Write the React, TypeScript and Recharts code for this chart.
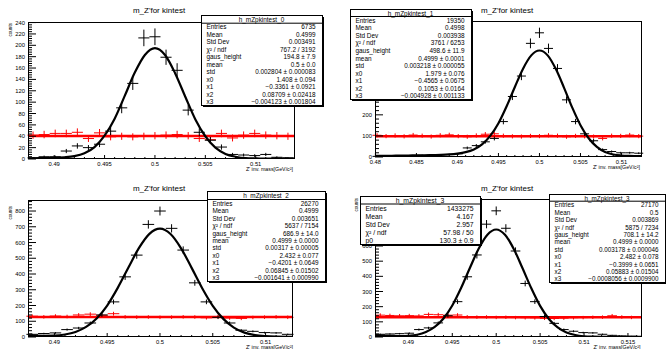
import { ComposedChart, ErrorBar, Line, ReferenceLine, Scatter, XAxis, YAxis } from "recharts";

const FONT = '"Liberation Sans", Arial, Helvetica, sans-serif';
const HALF_BIN = 0.00055;

// ---- pad 0 (top left)
const BINS_0 = [0.4879, 0.489, 0.4901, 0.4912, 0.4923, 0.4934, 0.4945, 0.4956, 0.4967, 0.4978, 0.4989, 0.5, 0.5011, 0.5022, 0.5033, 0.5044, 0.5055, 0.5066, 0.5077, 0.5088, 0.5099, 0.511, 0.5121, 0.5132];
const COUNTS_0 = [2, 4, 4, 14, 23, 20, 26, 49, 90, 133, 213, 215, 179, 156, 86, 47, 33, 21, 8, 7, 6, 8, 3, 2];
const ERR_0 = [1.4, 2, 2, 3.7, 4.8, 4.5, 5.1, 7, 9.5, 11.5, 14.6, 14.7, 13.4, 12.5, 9.3, 6.9, 5.7, 4.6, 2.8, 2.6, 2.4, 2.8, 1.7, 1.4];
const BKG_0 = [42, 43, 45, 45, 47, 36, 46, 39, 40, 39, 40, 41, 42, 43, 41, 36, 34, 45, 37, 42, 45, 42, 41, 40];
const BKG_ERR_0 = [6.5, 6.6, 6.7, 6.7, 6.9, 6, 6.8, 6.2, 6.3, 6.2, 6.3, 6.4, 6.5, 6.6, 6.4, 6, 5.8, 6.7, 6.1, 6.5, 6.7, 6.5, 6.4, 6.3];
const FIT_X_0 = [0.4874, 0.488, 0.489, 0.49, 0.491, 0.492, 0.493, 0.494, 0.495, 0.496, 0.497, 0.498, 0.499, 0.5, 0.501, 0.502, 0.503, 0.504, 0.505, 0.506, 0.507, 0.508, 0.509, 0.51, 0.511, 0.512, 0.513, 0.5139];
const FIT_Y_0 = [1, 1.2, 1.8, 2, 3, 5, 10, 21, 41, 71, 111, 152, 183, 195, 183, 151, 110, 70, 40, 20, 9, 4, 1.5, 1, 0.8, 0.6, 0.5, 0.5];
const LEVEL_0 = 40.5;
const X_LABELS_0 = [0.49, 0.495, 0.5, 0.505, 0.51];
const Y_LABELS_0 = [0, 20, 40, 60, 80, 100, 120, 140, 160, 180, 200, 220, 240];

// ---- pad 1 (top right); labels above 200 sit under the stats box
const BINS_1 = [0.4802, 0.4813, 0.4824, 0.4835, 0.4846, 0.4857, 0.4868, 0.4879, 0.489, 0.4901, 0.4912, 0.4923, 0.4934, 0.4945, 0.4956, 0.4967, 0.4978, 0.4989, 0.5, 0.5011, 0.5022, 0.5033, 0.5044, 0.5055, 0.5066, 0.5077, 0.5088, 0.5099, 0.511, 0.5121];
const COUNTS_1 = [3, 4, 5, 5, 6, 8, 9, 11, 12, 15, 43, 54, 72, 88, 168, 287, 384, 539, 589, 515, 420, 271, 168, 110, 77, 35, 26, 20, 20, 18];
const ERR_1 = [1.7, 2, 2.2, 2.2, 2.4, 2.8, 3, 3.3, 3.5, 3.9, 6.6, 7.3, 8.5, 9.4, 13, 16.9, 19.6, 23.2, 24.3, 22.7, 20.5, 16.5, 13, 10.5, 8.8, 5.9, 5.1, 4.5, 4.5, 4.2];
const BKG_1 = [103, 99, 102, 98, 104, 101, 97, 103, 105, 99, 96, 102, 108, 110, 101, 98, 97, 100, 99, 103, 101, 96, 100, 98, 97, 88, 101, 100, 104, 99];
const BKG_ERR_1 = [10.1, 9.9, 10.1, 9.9, 10.2, 10, 9.8, 10.1, 10.2, 9.9, 9.8, 10.1, 10.4, 10.5, 10, 9.9, 9.8, 10, 9.9, 10.1, 10, 9.8, 10, 9.9, 9.8, 9.4, 10, 10, 10.2, 9.9];
const FIT_X_1 = [0.48, 0.481, 0.482, 0.483, 0.484, 0.485, 0.486, 0.487, 0.488, 0.489, 0.49, 0.491, 0.492, 0.493, 0.494, 0.495, 0.496, 0.497, 0.498, 0.499, 0.5, 0.501, 0.502, 0.503, 0.504, 0.505, 0.506, 0.507, 0.508, 0.509, 0.51, 0.511, 0.512, 0.5125];
const FIT_Y_1 = [5, 6, 6, 7, 7, 8, 8, 9, 10, 12, 16, 23, 36, 60, 100, 160, 241, 332, 419, 482, 505, 482, 417, 328, 234, 151, 89, 48, 24, 12, 7, 5, 4, 4];
const LEVEL_1 = 99;
const X_LABELS_1 = [0.48, 0.485, 0.49, 0.495, 0.5, 0.505, 0.51];
const Y_LABELS_1 = [0, 100, 200];

// ---- pad 2 (bottom left)
const BINS_2 = [0.4879, 0.489, 0.4901, 0.4912, 0.4923, 0.4934, 0.4945, 0.4956, 0.4967, 0.4978, 0.4989, 0.5, 0.5011, 0.5022, 0.5033, 0.5044, 0.5055, 0.5066, 0.5077, 0.5088, 0.5099, 0.511, 0.5121];
const COUNTS_2 = [17, 22, 26, 47, 57, 89, 140, 223, 382, 520, 715, 800, 690, 552, 344, 223, 125, 89, 43, 36, 28, 26, 17];
const ERR_2 = [4.1, 4.7, 5.1, 6.9, 7.5, 9.4, 11.8, 14.9, 19.5, 22.8, 26.7, 28.3, 26.3, 23.5, 18.5, 14.9, 11.2, 9.4, 6.6, 6, 5.3, 5.1, 4.1];
const BKG_2 = [132, 128, 133, 130, 140, 145, 138, 148, 128, 126, 127, 125, 126, 128, 127, 122, 130, 120, 118, 124, 126, 128, 125];
const BKG_ERR_2 = [11.5, 11.3, 11.5, 11.4, 11.8, 12, 11.7, 12.2, 11.3, 11.2, 11.3, 11.2, 11.2, 11.3, 11.3, 11, 11.4, 11, 10.9, 11.1, 11.2, 11.3, 11.2];
const FIT_X_2 = [0.4875, 0.488, 0.489, 0.49, 0.491, 0.492, 0.493, 0.494, 0.495, 0.496, 0.497, 0.498, 0.499, 0.5, 0.501, 0.502, 0.503, 0.504, 0.505, 0.506, 0.507, 0.508, 0.509, 0.51, 0.511, 0.512, 0.5126];
const FIT_Y_2 = [10, 9, 8, 9, 16, 32, 64, 118, 200, 312, 440, 564, 655, 688, 654, 563, 439, 310, 198, 115, 60, 28, 12, 5, 2, 1, 1];
const LEVEL_2 = 127;
const X_LABELS_2 = [0.49, 0.495, 0.5, 0.505, 0.51];
const Y_LABELS_2 = [0, 100, 200, 300, 400, 500, 600, 700, 800];

// ---- pad 3 (bottom right); labels above 600 sit under the stats box
const BINS_3 = [0.4868, 0.4879, 0.489, 0.4901, 0.4912, 0.4923, 0.4934, 0.4945, 0.4956, 0.4967, 0.4978, 0.4989, 0.5, 0.5011, 0.5022, 0.5033, 0.5044, 0.5055, 0.5066, 0.5077, 0.5088, 0.5099, 0.511, 0.5121, 0.5132, 0.5143, 0.5154];
const COUNTS_3 = [18, 20, 22, 25, 49, 60, 93, 140, 233, 397, 541, 744, 832, 717, 567, 353, 233, 135, 90, 49, 38, 29, 27, 18, 11, 7, 5];
const ERR_3 = [4.2, 4.5, 4.7, 5, 7, 7.7, 9.6, 11.8, 15.3, 19.9, 23.3, 27.3, 28.8, 26.8, 23.8, 18.8, 15.3, 11.6, 9.5, 7, 6.2, 5.4, 5.2, 4.2, 3.3, 2.6, 2.2];
const BKG_3 = [144, 142, 140, 141, 139, 149, 147, 144, 145, 133, 131, 132, 129, 130, 128, 127, 126, 123, 122, 124, 127, 128, 130, 131, 140, 132, 129];
const BKG_ERR_3 = [12, 11.9, 11.8, 11.9, 11.8, 12.2, 12.1, 12, 12, 11.5, 11.4, 11.5, 11.4, 11.4, 11.3, 11.3, 11.2, 11.1, 11, 11.1, 11.3, 11.3, 11.4, 11.4, 11.8, 11.5, 11.4];
const FIT_X_3 = [0.4862, 0.487, 0.488, 0.489, 0.49, 0.491, 0.492, 0.493, 0.494, 0.495, 0.496, 0.497, 0.498, 0.499, 0.5, 0.501, 0.502, 0.503, 0.504, 0.505, 0.506, 0.507, 0.508, 0.509, 0.51, 0.511, 0.512, 0.513, 0.514, 0.515, 0.516, 0.5166];
const FIT_Y_3 = [12, 10, 8, 6, 8, 15, 33, 66, 122, 208, 323, 455, 582, 675, 709, 674, 581, 453, 321, 205, 119, 63, 30, 13, 5, 2, 1, 1, 1, 1, 1, 1];
const LEVEL_3 = 130.3;
const X_LABELS_3 = [0.49, 0.495, 0.5, 0.505, 0.51, 0.515];
const Y_LABELS_3 = [0, 100, 200, 300, 400, 500, 600];

// ---- stats boxes
const STATS_0 = [
  ["Entries", "6735"], ["Mean", "0.4999"], ["Std Dev", "0.003491"], ["χ² / ndf", "767.2 / 3192"],
  ["gaus_height", "194.8 ± 7.9"], ["mean", "0.5 ± 0.0"], ["std", "0.002804 ± 0.000083"],
  ["x0", "1.408 ± 0.094"], ["x1", "−0.3361 ± 0.0921"], ["x2", "0.08709 ± 0.02418"], ["x3", "−0.004123 ± 0.001804"],
];
const STATS_1 = [
  ["Entries", "19350"], ["Mean", "0.4998"], ["Std Dev", "0.003938"], ["χ² / ndf", "3761 / 6253"],
  ["gaus_height", "498.6 ± 11.9"], ["mean", "0.4999 ± 0.0001"], ["std", "0.003218 ± 0.000055"],
  ["x0", "1.979 ± 0.076"], ["x1", "−0.4565 ± 0.0675"], ["x2", "0.1053 ± 0.0164"], ["x3", "−0.004928 ± 0.001133"],
];
const STATS_2 = [
  ["Entries", "26270"], ["Mean", "0.4999"], ["Std Dev", "0.003651"], ["χ² / ndf", "5637 / 7154"],
  ["gaus_height", "686.9 ± 14.0"], ["mean", "0.4999 ± 0.0000"], ["std", "0.00317 ± 0.00005"],
  ["x0", "2.432 ± 0.077"], ["x1", "−0.4201 ± 0.0649"], ["x2", "0.06845 ± 0.01502"], ["x3", "−0.001641 ± 0.000990"],
];
const STATS_3_BKG = [
  ["Entries", "1433275"], ["Mean", "4.167"], ["Std Dev", "2.957"], ["χ² / ndf", "57.98 / 50"], ["p0", "130.3 ± 0.9"],
];
const STATS_3 = [
  ["Entries", "27170"], ["Mean", "0.5"], ["Std Dev", "0.003869"], ["χ² / ndf", "5875 / 7234"],
  ["gaus_height", "708.1 ± 14.2"], ["mean", "0.4999 ± 0.0000"], ["std", "0.003178 ± 0.000046"],
  ["x0", "2.482 ± 0.078"], ["x1", "−0.3999 ± 0.0651"], ["x2", "0.05883 ± 0.01504"], ["x3", "−0.0008056 ± 0.0009900"],
];

const TITLE = "m_Z'for kintest";
const X_TITLE = "Z' inv. mass[GeV/c²]";
const Y_TITLE = "counts";

function steps(from: number, to: number, step: number) {
  const out: number[] = [];
  const n = Math.round((to - from) / step);
  for (let i = 0; i <= n; i++) out.push(Math.round((from + i * step) * 1e6) / 1e6);
  return out;
}

const rows = (bins: number[], ys: number[], errs: number[]) =>
  bins.map((x, i) => ({ x, y: ys[i], ex: HALF_BIN, ey: errs[i] }));
const curve = (xs: number[], ys: number[]) => xs.map((x, i) => ({ x, y: ys[i] }));

const PADS = [
  {
    id: 0, px: 0, py: 0, w: 333, h: 175, f: { l: 28, t: 22, r: 295, b: 159 },
    xDomain: [0.4874, 0.5139], yDomain: [0, 241], xTicks: steps(0.488, 0.513, 0.001), xLabels: X_LABELS_0,
    yTicks: steps(0, 240, 4), yLabels: Y_LABELS_0,
    black: rows(BINS_0, COUNTS_0, ERR_0), red: rows(BINS_0, BKG_0, BKG_ERR_0), fit: curve(FIT_X_0, FIT_Y_0), level: LEVEL_0,
    title: [159, 10], xTitle: [293, 168.5], yTitle: [10, 23] as number[] | null,
  },
  {
    id: 1, px: 333, py: 0, w: 333, h: 175, f: { l: 42, t: 21, r: 309, b: 157 },
    xDomain: [0.47995, 0.5125], yDomain: [0, 645], xTicks: steps(0.48, 0.512, 0.001), xLabels: X_LABELS_1,
    yTicks: steps(0, 640, 20), yLabels: Y_LABELS_1,
    black: rows(BINS_1, COUNTS_1, ERR_1), red: rows(BINS_1, BKG_1, BKG_ERR_1), fit: curve(FIT_X_1, FIT_Y_1), level: LEVEL_1,
    title: [507, 10.5], xTitle: [640, 167], yTitle: null,
  },
  {
    id: 2, px: 0, py: 175, w: 333, h: 174, f: { l: 28, t: 25, r: 293, b: 162 },
    xDomain: [0.4875, 0.5126], yDomain: [0, 870], xTicks: steps(0.488, 0.512, 0.001), xLabels: X_LABELS_2,
    yTicks: steps(0, 860, 20), yLabels: Y_LABELS_2,
    black: rows(BINS_2, COUNTS_2, ERR_2), red: rows(BINS_2, BKG_2, BKG_ERR_2), fit: curve(FIT_X_2, FIT_Y_2), level: LEVEL_2,
    title: [159, 188.5], xTitle: [293, 346.5], yTitle: [10, 206],
  },
  {
    id: 3, px: 333, py: 175, w: 333, h: 174, f: { l: 42, t: 24, r: 309, b: 162 },
    xDomain: [0.4862, 0.5166], yDomain: [0, 910], xTicks: steps(0.487, 0.516, 0.001), xLabels: X_LABELS_3,
    yTicks: steps(0, 900, 20), yLabels: Y_LABELS_3,
    black: rows(BINS_3, COUNTS_3, ERR_3), red: rows(BINS_3, BKG_3, BKG_ERR_3), fit: curve(FIT_X_3, FIT_Y_3), level: LEVEL_3,
    title: [507, 188.5], xTitle: [640.5, 346.5], yTitle: [356.5, 198],
  },
];

const BOXES = [
  { x: 201, y: 15, w: 121, h: 90, head: 7.7, fs: 6.4, title: "h_mZpkintest_0", rows: STATS_0 },
  { x: 350, y: 9, w: 121, h: 90, head: 7, fs: 6.4, title: "h_mZpkintest_1", rows: STATS_1 },
  { x: 207, y: 191, w: 118, h: 90, head: 8, fs: 6.4, title: "h_mZpkintest_2", rows: STATS_2 },
  { x: 360, y: 196, w: 120, h: 48, head: 7.5, fs: 6.8, title: "h_mZpkintest_3", rows: STATS_3_BKG },
  { x: 549, y: 194, w: 116, h: 88, head: 6.7, fs: 6.3, title: "h_mZpkintest_3", rows: STATS_3 },
];

const isMajor = (labels: number[], v: number) => labels.some((l) => Math.abs(l - v) < 1e-7);

function xTick(labels: number[]) {
  return (props: any) => {
    const { x, y, payload } = props;
    const major = isMajor(labels, payload.value);
    return (
      <g>
        <line x1={x} x2={x} y1={y} y2={y - (major ? 4 : 2)} stroke="#000" strokeWidth={1} />
        {major && (
          <text x={x} y={y + 6.8} textAnchor="middle" fontSize={5.8} fontFamily={FONT} fill="#000">
            {payload.value}
          </text>
        )}
      </g>
    );
  };
}

function yTick(labels: number[]) {
  return (props: any) => {
    const { x, y, payload } = props;
    const major = isMajor(labels, payload.value) || payload.value % 100 === 0;
    const labelled = isMajor(labels, payload.value);
    return (
      <g>
        <line x1={x} x2={x + (major ? 8 : 4)} y1={y} y2={y} stroke="#000" strokeWidth={1} />
        {labelled && (
          <text x={x - 3} y={y} textAnchor="end" dominantBaseline="central" fontSize={5.8} fontFamily={FONT} fill="#000">
            {payload.value}
          </text>
        )}
      </g>
    );
  };
}

const noMark = () => <g />;

function Pad({ p }: { p: (typeof PADS)[number] }) {
  return (
    <div style={{ position: "absolute", left: p.px, top: p.py }}>
      <ComposedChart width={p.w} height={p.h} margin={{ top: p.f.t, right: p.w - p.f.r, bottom: 0, left: 0 }}>
        <XAxis
          type="number"
          dataKey="x"
          domain={p.xDomain}
          allowDataOverflow
          ticks={p.xTicks}
          interval={0}
          tickSize={0}
          tickMargin={0}
          tickLine={false}
          axisLine={false}
          height={p.h - p.f.b}
          tick={xTick(p.xLabels)}
        />
        <YAxis
          type="number"
          domain={p.yDomain}
          allowDataOverflow
          ticks={p.yTicks}
          interval={0}
          tickSize={0}
          tickMargin={0}
          tickLine={false}
          axisLine={false}
          width={p.f.l}
          tick={yTick(p.yLabels)}
        />
        <Scatter data={p.red} dataKey="y" shape={noMark} isAnimationActive={false}>
          <ErrorBar dataKey="ex" direction="x" width={0} stroke="#ff0000" strokeWidth={1} isAnimationActive={false} />
          <ErrorBar dataKey="ey" direction="y" width={0} stroke="#ff0000" strokeWidth={1} isAnimationActive={false} />
        </Scatter>
        <ReferenceLine y={p.level} stroke="#ff0000" strokeWidth={2.5} />
        <Scatter data={p.black} dataKey="y" shape={noMark} isAnimationActive={false}>
          <ErrorBar dataKey="ex" direction="x" width={0} stroke="#000" strokeWidth={1} isAnimationActive={false} />
          <ErrorBar dataKey="ey" direction="y" width={0} stroke="#000" strokeWidth={1} isAnimationActive={false} />
        </Scatter>
        <Line
          data={p.fit}
          dataKey="y"
          type="monotone"
          stroke="#000"
          strokeWidth={2.2}
          dot={false}
          activeDot={false}
          isAnimationActive={false}
        />
      </ComposedChart>
    </div>
  );
}

function StatBox({ b }: { b: (typeof BOXES)[number] }) {
  const pitch = (b.h - b.head) / b.rows.length;
  return (
    <g fontFamily={FONT} fontSize={b.fs} fill="#000">
      <rect x={b.x + 0.5} y={b.y + 0.5} width={b.w} height={b.h} fill="#fff" stroke="#000" strokeWidth={1} />
      <line x1={b.x + b.w + 1.5} x2={b.x + b.w + 1.5} y1={b.y + 2} y2={b.y + b.h + 2} stroke="#000" />
      <line x1={b.x + 2} x2={b.x + b.w + 2} y1={b.y + b.h + 1.5} y2={b.y + b.h + 1.5} stroke="#000" />
      <line x1={b.x} x2={b.x + b.w} y1={b.y + b.head + 0.5} y2={b.y + b.head + 0.5} stroke="#000" />
      <text x={b.x + b.w / 2} y={b.y + b.head / 2 + 0.8} textAnchor="middle" dominantBaseline="central">
        {b.title}
      </text>
      {b.rows.map(([k, v], i) => {
        const cy = b.y + b.head + pitch * (i + 0.5) + 0.5;
        return (
          <g key={k + i}>
            <text x={b.x + 5.5} y={cy} dominantBaseline="central">{k}</text>
            <text x={b.x + b.w - 6.5} y={cy} textAnchor="end" dominantBaseline="central">{v}</text>
          </g>
        );
      })}
    </g>
  );
}

export default function App() {
  return (
    <div style={{ position: "absolute", left: 0, top: 0, width: 666, height: 349, background: "#fff", fontFamily: FONT }}>
      {PADS.map((p) => (
        <Pad key={p.id} p={p} />
      ))}
      <svg width={666} height={349} style={{ position: "absolute", left: 0, top: 0, pointerEvents: "none" }}>
        {PADS.map((p) => (
          <g key={p.id} fontFamily={FONT} fill="#000">
            <rect
              x={p.px + p.f.l + 0.5}
              y={p.py + p.f.t + 0.5}
              width={p.f.r - p.f.l - 1}
              height={p.f.b - p.f.t - 1}
              fill="none"
              stroke="#000"
              strokeWidth={1}
            />
            <text x={p.title[0]} y={p.title[1]} textAnchor="middle" dominantBaseline="central" fontSize={8}>
              {TITLE}
            </text>
            <text x={p.xTitle[0]} y={p.xTitle[1]} textAnchor="end" dominantBaseline="central" fontSize={5.3}>
              {X_TITLE}
            </text>
            {p.yTitle && (
              <text
                x={p.yTitle[0]}
                y={p.yTitle[1]}
                textAnchor="end"
                dominantBaseline="central"
                fontSize={4.6}
                transform={`rotate(-90 ${p.yTitle[0]} ${p.yTitle[1]})`}
              >
                {Y_TITLE}
              </text>
            )}
          </g>
        ))}
        {BOXES.map((b, i) => (
          <StatBox key={i} b={b} />
        ))}
      </svg>
    </div>
  );
}
